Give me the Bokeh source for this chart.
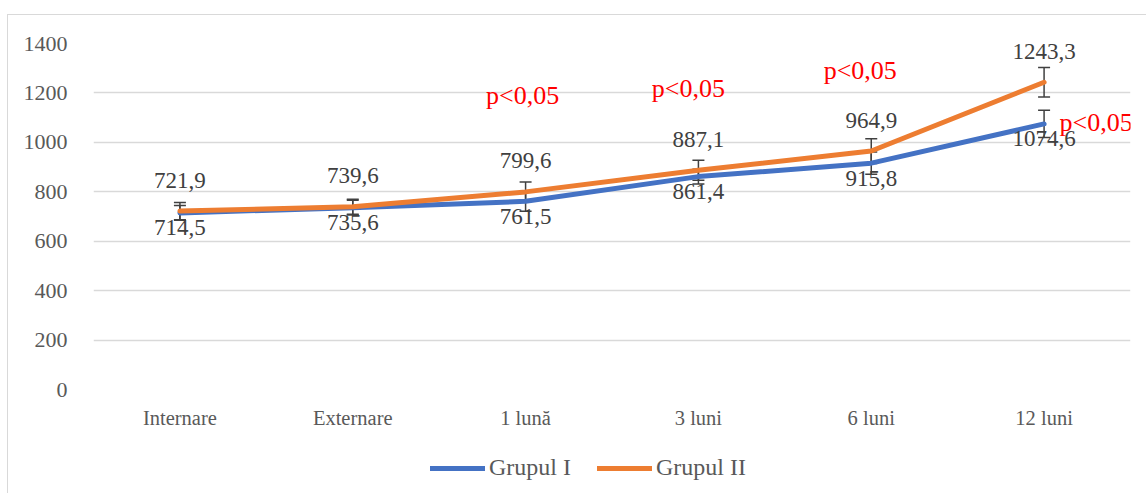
from bokeh.plotting import figure
from bokeh.layouts import column
from bokeh.models import (ColumnDataSource, Whisker, Legend, LegendItem,
                          FixedTicker, NumeralTickFormatter, Range1d)
from bokeh.core.properties import value
from bokeh.embed import file_html
from bokeh.resources import INLINE

categories = ["Internare", "Externare", "1 lună", "3 luni", "6 luni", "12 luni"]
grupul_1 = [714.5, 735.6, 761.5, 861.4, 915.8, 1074.6]
grupul_2 = [721.9, 739.6, 799.6, 887.1, 964.9, 1243.3]
err_1 = [30, 30, 40, 30, 45, 55]
err_2 = [35, 30, 40, 40, 50, 60]
labels_1 = ["714,5", "735,6", "761,5", "861,4", "915,8", "1074,6"]
labels_2 = ["721,9", "739,6", "799,6", "887,1", "964,9", "1243,3"]
series_names = ["Grupul I", "Grupul II"]
p_cats = ["1 lună", "3 luni", "6 luni", "12 luni"]
p_y = [1190, 1218, 1291, 1081]
p_text = ["p<0,05", "p<0,05", "p<0,05", "p<0,05"]
y_ticks = [0, 200, 400, 600, 800, 1000, 1200, 1400]

FONT = "'Liberation Serif', 'Times New Roman', serif"
BLUE = "#4472C4"
ORANGE = "#ED7D31"
GRAY = "#595959"

p = figure(x_range=categories, y_range=(0, 1400), width=1138, height=416,
           output_backend="svg", toolbar_location=None,
           min_border_left=85, min_border_right=16, min_border_top=28,
           min_border_bottom=40)
p.outline_line_color = None
p.background_fill_color = "white"
p.border_fill_color = "white"

src1 = ColumnDataSource(dict(x=categories, y=grupul_1,
                             lo=[v - e for v, e in zip(grupul_1, err_1)],
                             hi=[v + e for v, e in zip(grupul_1, err_1)],
                             lab=labels_1))
src2 = ColumnDataSource(dict(x=categories, y=grupul_2,
                             lo=[v - e for v, e in zip(grupul_2, err_2)],
                             hi=[v + e for v, e in zip(grupul_2, err_2)],
                             lab=labels_2))

p.line("x", "y", source=src1, line_color=BLUE, line_width=5, line_cap="round")
p.line("x", "y", source=src2, line_color=ORANGE, line_width=5, line_cap="round")

for s in (src1, src2):
    w = Whisker(source=s, base="x", lower="lo", upper="hi", line_color="#404040",
                line_width=1.5)
    w.upper_head.size = 12
    w.lower_head.size = 12
    w.upper_head.line_color = "#404040"
    w.lower_head.line_color = "#404040"
    w.upper_head.line_width = 1.5
    w.lower_head.line_width = 1.5
    p.add_layout(w)

p.text("x", "y", text="lab", source=src2, y_offset=-31, text_align="center",
       text_baseline="middle", text_font=value(FONT), text_font_size="23px",
       text_color="#404040")
p.text("x", "y", text="lab", source=src1, y_offset=15, text_align="center",
       text_baseline="middle", text_font=value(FONT), text_font_size="23px",
       text_color="#404040")

psrc = ColumnDataSource(dict(x=p_cats, y=p_y, t=p_text, xo=[-3, -10, -11, 52]))
p.text("x", "y", text="t", source=psrc, text_align="center", text_baseline="middle",
       text_font=value(FONT), text_font_size="26px", text_color="red",
       x_offset="xo")

# grid
p.xgrid.grid_line_color = None
p.ygrid.grid_line_color = "#D9D9D9"
p.ygrid.grid_line_width = 1.5
p.yaxis.ticker = FixedTicker(ticks=y_ticks)
p.yaxis.formatter = NumeralTickFormatter(format="0")
for ax in (p.xaxis[0], p.yaxis[0]):
    ax.axis_line_color = None
    ax.major_tick_line_color = None
    ax.minor_tick_line_color = None
    ax.major_label_text_font = FONT
    ax.major_label_text_color = GRAY
p.yaxis.major_label_text_font_size = "22px"
p.xaxis.major_label_text_font_size = "20.5px"
p.yaxis.major_label_standoff = 20
p.xaxis.major_label_standoff = 11

# legend strip below the chart
p2 = figure(width=1138, height=62, output_backend="svg", toolbar_location=None,
            x_range=Range1d(0, 1), y_range=Range1d(0, 1),
            x_axis_type=None, y_axis_type=None, min_border=0)
p2.outline_line_color = None
p2.xgrid.grid_line_color = None
p2.ygrid.grid_line_color = None
lr1 = p2.line(x=[-2, -1], y=[-2, -2], line_color=BLUE, line_width=5, line_cap="round")
lr2 = p2.line(x=[-2, -1], y=[-2, -2], line_color=ORANGE, line_width=5, line_cap="round")
legend = Legend(items=[LegendItem(label=series_names[0], renderers=[lr1]),
                       LegendItem(label=series_names[1], renderers=[lr2])],
                orientation="horizontal", location=(337, 12),
                label_text_font=FONT, label_text_font_size="24px",
                label_text_color=GRAY, glyph_width=55, glyph_height=22,
                label_standoff=4, spacing=26, border_line_color=None,
                background_fill_alpha=0, margin=0, padding=4)
p2.add_layout(legend)

layout = column(p, p2, margin=(14, 0, 0, 7),
                styles={"border-top": "1px solid #D9D9D9",
                        "border-left": "1px solid #D9D9D9"})

open("out.html", "w").write(file_html(layout, INLINE))
